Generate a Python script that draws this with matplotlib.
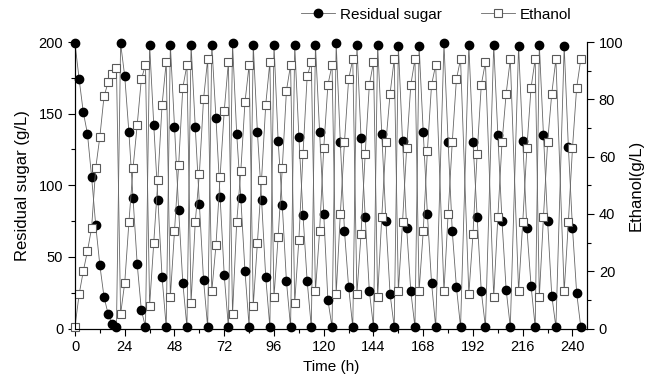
import matplotlib
matplotlib.use("Agg")
import matplotlib.pyplot as plt
from matplotlib.ticker import MultipleLocator

plt.rcParams["font.family"] = ["Liberation Sans", "DejaVu Sans"]

# sampling times (h)
times = [0, 2, 4, 6, 8, 10, 12, 14, 16, 18, 20,
         22, 24, 26, 28, 30, 32, 34,
         36, 38, 40, 42, 44,
         46, 48, 50, 52, 54,
         56, 58, 60, 62, 64,
         66, 68, 70, 72, 74,
         76, 78, 80, 82, 84,
         86, 88, 90, 92, 94,
         96, 98, 100, 102, 104,
         106, 108, 110, 112, 114,
         116, 118, 120, 122, 124,
         126, 128, 130, 132, 134,
         136, 138, 140, 142, 144,
         146, 148, 150, 152, 154,
         156, 158, 160, 162, 164,
         166, 168, 170, 172, 174,
         178, 180, 182, 184, 186,
         190, 192, 194, 196, 198,
         202, 204, 206, 208, 210,
         214, 216, 218, 220, 222,
         224, 226, 228, 230, 232,
         236, 238, 240, 242, 244]

# residual sugar (g/L)
sugar = [199, 174, 151, 136, 106, 72, 44, 22, 10, 3, 1,
         199, 176, 137, 91, 45, 13, 1,
         198, 142, 90, 36, 1,
         198, 141, 83, 32, 1,
         198, 141, 87, 34, 1,
         198, 147, 92, 37, 1,
         199, 136, 91, 40, 1,
         198, 137, 90, 36, 1,
         198, 131, 86, 33, 1,
         198, 134, 79, 33, 1,
         198, 137, 80, 20, 1,
         199, 130, 68, 29, 1,
         198, 133, 78, 26, 1,
         198, 136, 75, 24, 1,
         197, 131, 70, 26, 1,
         197, 137, 80, 32, 1,
         199, 130, 68, 29, 1,
         198, 130, 78, 26, 1,
         198, 135, 75, 27, 1,
         197, 131, 70, 30, 1,
         198, 135, 75, 23, 1,
         197, 127, 70, 25, 1]

# ethanol (g/L)
ethanol = [0.6, 12, 20, 27, 35, 56, 67, 81, 86, 89, 91,
           5, 16, 37, 56, 71, 87, 92,
           8, 30, 52, 78, 93,
           11, 34, 57, 84, 92,
           9, 37, 54, 80, 94,
           13, 29, 53, 76, 93,
           5, 37, 55, 79, 92,
           8, 30, 52, 78, 93,
           11, 32, 56, 83, 92,
           9, 31, 61, 88, 93,
           13, 34, 63, 85, 92,
           12, 40, 65, 87, 94,
           12, 33, 61, 85, 93,
           11, 39, 65, 82, 94,
           13, 37, 63, 85, 94,
           13, 34, 62, 85, 92,
           13, 40, 65, 87, 94,
           12, 33, 61, 85, 93,
           11, 39, 65, 82, 94,
           13, 37, 63, 84, 94,
           11, 39, 65, 82, 94,
           13, 37, 63, 84, 94]

fig = plt.figure(figsize=(6.61, 3.87), dpi=100)
ax = fig.add_axes([75 / 661, 58.5 / 387, 512 / 661, 286.5 / 387])
ax2 = ax.twinx()

l1, = ax.plot(times, sugar, "-o", color="0.4", lw=0.6, ms=6,
              mfc="black", mec="black", clip_on=False, label="Residual sugar")
l2, = ax2.plot(times, ethanol, "-s", color="0.4", lw=0.6, ms=5.2,
               mfc="white", mec="0.35", mew=0.8, clip_on=False, label="Ethanol")

ax.set_xlim(0, 247)
ax.set_ylim(0, 200)
ax2.set_ylim(0, 100)

ax.xaxis.set_major_locator(MultipleLocator(24))
ax.xaxis.set_minor_locator(MultipleLocator(12))
ax.yaxis.set_major_locator(MultipleLocator(50))
ax.yaxis.set_minor_locator(MultipleLocator(25))
ax2.yaxis.set_major_locator(MultipleLocator(20))
ax2.yaxis.set_minor_locator(MultipleLocator(10))

for a in (ax, ax2):
    a.tick_params(which="major", direction="out", length=5, width=0.8, labelsize=10.5)
    a.tick_params(which="minor", direction="out", length=3, width=0.8)
    a.spines["top"].set_visible(False)

ax.set_xlabel("Time (h)", fontsize=11)
ax.set_ylabel("Residual sugar (g/L)", fontsize=12, labelpad=6)
ax2.set_ylabel("Ethanol(g/L)", fontsize=12, labelpad=4)

fig.legend(handles=[l1, l2], loc="center", bbox_to_anchor=(0.66, 0.962),
           ncol=2, frameon=False, fontsize=11, handlelength=2.2,
           columnspacing=2.6, handletextpad=0.3)

fig.savefig("out.png", dpi=100)
